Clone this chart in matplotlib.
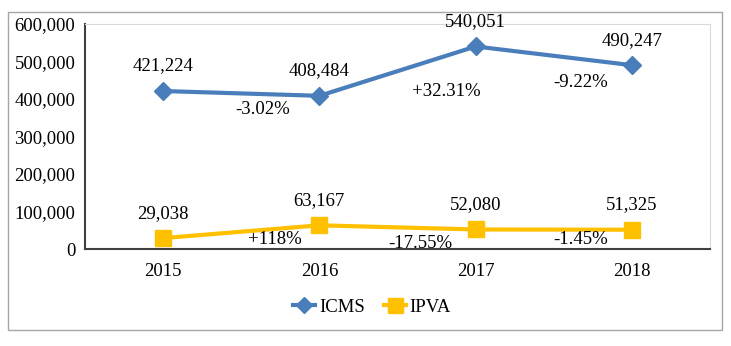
import matplotlib.pyplot as plt
from matplotlib.patches import Rectangle
from matplotlib.ticker import FuncFormatter

years = ['2015', '2016', '2017', '2018']
icms = [421224, 408484, 540051, 490247]
ipva = [29038, 63167, 52080, 51325]
icms_pct = ['-3.02%', '+32.31%', '-9.22%']
ipva_pct = ['+118%', '-17.55%', '-1.45%']

# where the % labels sit (data units)
icms_pct_pos = [(0.635, 373000), (1.814, 421000), (2.673, 443000)]
ipva_pct_pos = [(0.718, 26000), (1.647, 16000), (2.673, 26000)]

plt.rcParams['font.family'] = ['Liberation Serif', 'DejaVu Serif']
blue = '#4A7EBB'
gold = '#FFC000'
fs = 13.5

fig = plt.figure(figsize=(7.31, 3.46), dpi=100)
fig.patches.append(Rectangle((8/731, 1-330/346), 714/731, 318/346, transform=fig.transFigure,
                             fill=False, edgecolor='#A6A6A6', linewidth=1))
ax = fig.add_axes([85/731, 97/346, 625/731, 225/346])

x = range(len(years))
ax.plot(x, icms, color=blue, lw=3, marker='D', ms=9, label='ICMS')
ax.plot(x, ipva, color=gold, lw=3, marker='s', ms=12, label='IPVA')

for i, v in enumerate(icms):
    ax.annotate(f'{v:,}', (i, v), xytext=(0, 18), textcoords='offset points',
                ha='center', va='center', fontsize=fs)
for i, v in enumerate(ipva):
    ax.annotate(f'{v:,}', (i, v), xytext=(0, 18), textcoords='offset points',
                ha='center', va='center', fontsize=fs)
for t, (px, py) in zip(icms_pct + ipva_pct, icms_pct_pos + ipva_pct_pos):
    ax.text(px, py, t, ha='center', va='center', fontsize=fs)

ax.set_xlim(-0.5, 3.5)
ax.set_ylim(0, 600000)
ax.set_yticks(range(0, 600001, 100000))
ax.yaxis.set_major_formatter(FuncFormatter(lambda v, p: f'{int(v):,}'))
ax.set_xticks(list(x))
ax.set_xticklabels(years)
ax.tick_params(length=0, labelsize=fs, colors='#000000')
ax.tick_params(axis='x', pad=10)
ax.tick_params(axis='y', pad=7)
for s in ['top', 'right']:
    ax.spines[s].set_color('#D9D9D9')
for s in ['left', 'bottom']:
    ax.spines[s].set_color('#404040')
    ax.spines[s].set_linewidth(1.5)
for ln in ax.lines:
    ln.set_clip_on(False)

fig.legend(loc='center', bbox_to_anchor=(372/731, 1-307/346), ncol=2, frameon=False,
           fontsize=fs, handlelength=1.2, columnspacing=1.0, handletextpad=0.2,
           markerscale=0.9)

fig.savefig('out.png', dpi=100)
